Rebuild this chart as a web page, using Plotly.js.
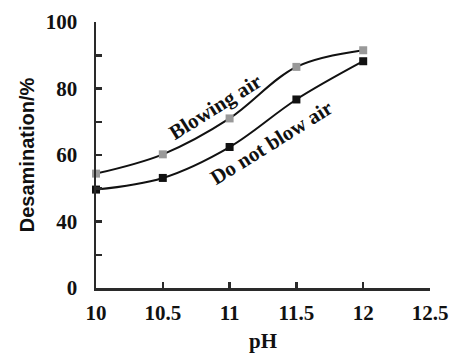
<!DOCTYPE html>
<html>
<head>
<meta charset="utf-8">
<script src="https://cdn.plot.ly/plotly-3.0.1.min.js"></script>
<style>html,body{margin:0;padding:0;background:#fff;}#chart{width:455px;height:353px;}</style>
</head>
<body>
<div id="chart"></div>
<script>
// Data (y axis is broken: labelled 0 at the bottom, then 40..100)
var pH = [10, 10.5, 11, 11.5, 12];
var blowingAir = [54.4, 60.2, 71.0, 86.5, 91.5];
var noBlowAir = [49.6, 53.1, 62.4, 76.7, 88.2];
var yTickVals = [20, 30, 40, 50, 60, 70, 80, 90, 100];
var yTickText = ['0', '', '40', '', '60', '', '80', '', '100'];
var xTickVals = [10, 10.5, 11, 11.5, 12, 12.5];
var xTickText = ['10', '10.5', '11', '11.5', '12', '12.5'];

var serif = '"Liberation Serif", "Times New Roman", serif';
var sans = '"Liberation Sans", Arial, sans-serif';
var ink = '#2a2a2a';

var traces = [
  {x: pH, y: blowingAir, mode: 'lines+markers', name: 'Blowing air', cliponaxis: false,
   line: {color: '#111', width: 2, shape: 'spline', smoothing: 1},
   marker: {symbol: 'square', size: 8, color: '#999999'}},
  {x: pH, y: noBlowAir, mode: 'lines+markers', name: 'Do not blow air', cliponaxis: false,
   line: {color: '#111', width: 2, shape: 'spline', smoothing: 1},
   marker: {symbol: 'square', size: 8, color: '#111111'}}
];

var layout = {
  width: 455, height: 353,
  margin: {l: 96, r: 25, t: 22, b: 65},
  paper_bgcolor: '#fff', plot_bgcolor: '#fff',
  showlegend: false,
  xaxis: {
    range: [10, 12.5], tickmode: 'array', tickvals: xTickVals, ticktext: xTickText,
    ticks: 'inside', ticklen: 6, tickwidth: 2.5, tickcolor: ink,
    showline: true, linecolor: ink, linewidth: 2.5, showgrid: false, zeroline: false,
    ticklabelstandoff: 4,
    tickfont: {family: serif, size: 21, color: '#111', weight: 'bold'},
    title: {text: '<b>pH</b>', font: {family: serif, size: 21, color: '#111'}, standoff: 12}
  },
  yaxis: {
    range: [20, 100], tickmode: 'array', tickvals: yTickVals, ticktext: yTickText,
    ticks: 'inside', ticklen: 6, tickwidth: 2.5, tickcolor: ink,
    showline: true, linecolor: ink, linewidth: 2.5, showgrid: false, zeroline: false,
    ticklabelstandoff: 12,
    tickfont: {family: serif, size: 21, color: '#111', weight: 'bold'},
    title: {text: '<b>Desamination/%</b>', font: {family: sans, size: 20, color: '#111'}, standoff: 6}
  },
  annotations: [
    {x: 10.89, y: 74.5, xref: 'x', yref: 'y', text: '<b>Blowing air</b>', showarrow: false,
     textangle: -32, font: {family: serif, size: 21, color: '#111'}},
    {x: 11.31, y: 63.5, xref: 'x', yref: 'y', text: '<b>Do not blow air</b>', showarrow: false,
     textangle: -32, font: {family: serif, size: 21, color: '#111'}}
  ]
};

Plotly.newPlot('chart', traces, layout, {displayModeBar: false, staticPlot: true});
</script>
</body>
</html>
